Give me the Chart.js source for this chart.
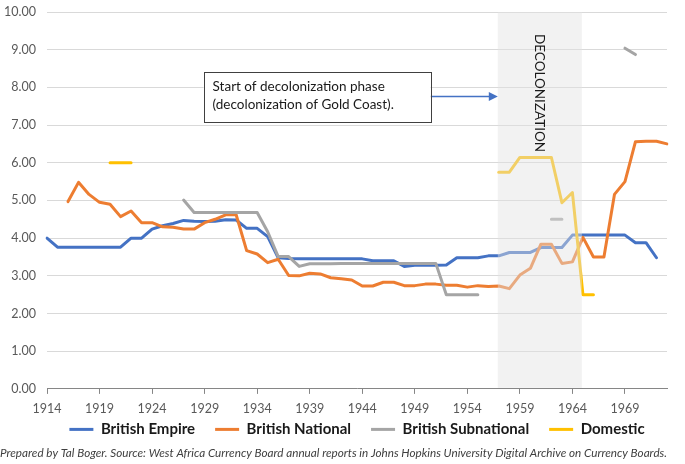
<!DOCTYPE html>
<html>
<head>
<meta charset="utf-8">
<script src="https://cdn.jsdelivr.net/npm/chart.js@4.4.1/dist/chart.umd.min.js"></script>
<style>
  html, body { margin: 0; padding: 0; background: #fff; }
  #wrap { width: 685px; height: 464px; }
</style>
</head>
<body>
<div id="wrap"><canvas id="chart" width="685" height="464"></canvas></div>
<script>
// années 1914 -> 1973
const years = Array.from({ length: 60 }, (_, i) => 1914 + i);

const britishEmpire = [
  4.00, 3.76, 3.76, 3.76, 3.76, 3.76, 3.76, 3.76, 4.00, 4.00,
  4.24, 4.33, 4.39, 4.47, 4.45, 4.44, 4.45, 4.49, 4.48, 4.26,
  4.26, 4.04, 3.48, 3.46, 3.45, 3.45, 3.45, 3.45, 3.45, 3.45,
  3.45, 3.40, 3.40, 3.40, 3.25, 3.28, 3.28, 3.28, 3.29, 3.48,
  3.48, 3.48, 3.53, 3.53, 3.62, 3.62, 3.62, 3.75, 3.75, 3.75,
  4.08, 4.08, 4.08, 4.08, 4.08, 4.08, 3.88, 3.88, 3.48, null
];

const britishNational = [
  null, null, 4.97, 5.48, 5.16, 4.95, 4.90, 4.57, 4.72, 4.41,
  4.41, 4.30, 4.29, 4.24, 4.24, 4.41, 4.50, 4.62, 4.62, 3.67,
  3.58, 3.35, 3.44, 3.01, 3.00, 3.07, 3.05, 2.95, 2.92, 2.89,
  2.73, 2.73, 2.83, 2.83, 2.74, 2.74, 2.78, 2.78, 2.75, 2.75,
  2.70, 2.74, 2.72, 2.73, 2.66, 3.02, 3.20, 3.84, 3.84, 3.33,
  3.37, 4.02, 3.50, 3.50, 5.16, 5.50, 6.56, 6.57, 6.57, 6.50
];

const britishSubnational = [
  null, null, null, null, null, null, null, null, null, null,
  null, null, null, 5.01, 4.68, 4.68, 4.68, 4.68, 4.68, 4.68,
  4.68, 4.17, 3.51, 3.51, 3.25, 3.32, 3.32, 3.32, 3.33, 3.33,
  3.33, 3.33, 3.33, 3.33, 3.33, 3.33, 3.33, 3.33, 2.50, 2.50,
  2.50, 2.50, null, null, null, null, null, null, 4.50, 4.50,
  null, null, null, null, null, 9.04, 8.87, null, null, null
];

const domestic = [
  null, null, null, null, null, null, 6.00, 6.00, 6.00, null,
  null, null, null, null, null, null, null, null, null, null,
  null, null, null, null, null, null, null, null, null, null,
  null, null, null, null, null, null, null, null, null, null,
  null, null, null, 5.75, 5.75, 6.14, 6.14, 6.14, 6.14, 4.94,
  5.21, 2.50, 2.50, null, null, null, null, null, null, null
];

const yTicks = [0, 1, 2, 3, 4, 5, 6, 7, 8, 9, 10];

// période de décolonisation (en années) et annotation
const decolonization = [1956.9, 1964.9];
const bandLabel = 'DECOLONIZATION';
const noteLines = ['Start of decolonization phase', '(decolonization of Gold Coast).'];
const noteBox = { from: 1928.9, to: 1950.5, top: 8.42, bottom: 7.09 };
const footnote = 'Prepared by Tal Boger. Source: West Africa Currency Board annual reports in Johns Hopkins University Digital Archive on Currency Boards.';

const FONT = 'Lato';
const tickColor = '#595959';

const overlayPlugin = {
  id: 'overlay',
  afterDatasetsDraw(chart) {
    const { ctx, chartArea, scales: { x, y } } = chart;
    const xOf = yr => x.getPixelForValue(yr - years[0]);

    // bande grise semi-transparente par-dessus les courbes
    const x0 = xOf(decolonization[0]);
    const x1 = xOf(decolonization[1]);
    ctx.save();
    ctx.fillStyle = 'rgba(226,226,226,0.45)';
    ctx.fillRect(x0, chartArea.top, x1 - x0, chartArea.bottom - chartArea.top - 1);

    ctx.translate((x0 + x1) / 2, y.getPixelForValue(7.85));
    ctx.rotate(Math.PI / 2);
    ctx.font = `13.5px ${FONT}`;
    ctx.fillStyle = '#1a1a1a';
    ctx.textAlign = 'center';
    ctx.textBaseline = 'middle';
    ctx.fillText(bandLabel, 0, 0);
    ctx.restore();

    // encadré + flèche
    const bl = xOf(noteBox.from), br = xOf(noteBox.to);
    const bt = y.getPixelForValue(noteBox.top), bb = y.getPixelForValue(noteBox.bottom);
    const mid = (bt + bb) / 2;

    ctx.save();
    ctx.strokeStyle = '#4472c4';
    ctx.fillStyle = '#4472c4';
    ctx.lineWidth = 1.5;
    ctx.beginPath();
    ctx.moveTo(br, mid);
    ctx.lineTo(x0 - 8, mid);
    ctx.stroke();
    ctx.beginPath();
    ctx.moveTo(x0, mid);
    ctx.lineTo(x0 - 9, mid - 4.5);
    ctx.lineTo(x0 - 9, mid + 4.5);
    ctx.closePath();
    ctx.fill();

    ctx.fillStyle = '#ffffff';
    ctx.fillRect(bl, bt, br - bl, bb - bt);
    ctx.strokeStyle = '#404040';
    ctx.lineWidth = 1;
    ctx.strokeRect(Math.round(bl) + 0.5, Math.round(bt) + 0.5, Math.round(br - bl), Math.round(bb - bt));

    ctx.font = `13.5px ${FONT}`;
    ctx.fillStyle = '#1a1a1a';
    ctx.textAlign = 'left';
    ctx.textBaseline = 'middle';
    ctx.fillText(noteLines[0], bl + 9, bt + 15);
    ctx.fillText(noteLines[1], bl + 9, bt + 33);
    ctx.restore();
  }
};

function series(label, data, color, order) {
  return {
    label,
    data,
    borderColor: color,
    backgroundColor: color,
    borderWidth: 3,
    pointRadius: 0,
    pointHoverRadius: 0,
    tension: 0,
    spanGaps: false,
    borderJoinStyle: 'round',
    borderCapStyle: 'round',
    order
  };
}

new Chart(document.getElementById('chart').getContext('2d'), {
  type: 'line',
  data: {
    labels: years,
    datasets: [
      series('British Empire', britishEmpire, '#4472c4', 4),
      series('British National', britishNational, '#ed7d31', 3),
      series('British Subnational', britishSubnational, '#a5a5a5', 2),
      series('Domestic', domestic, '#ffc000', 1)
    ]
  },
  options: {
    responsive: false,
    devicePixelRatio: 1,
    animation: false,
    layout: { padding: { top: 12, right: 18, left: 0, bottom: 2 } },
    scales: {
      x: {
        offset: false,
        grid: { drawOnChartArea: false, drawTicks: true, tickLength: 5, color: '#868686' },
        border: { display: true, color: '#868686' },
        ticks: {
          // mirror = pas de découpage des étiquettes, la marge négative les place sous l'axe
          mirror: true,
          padding: -27.5,
          autoSkip: false,
          maxRotation: 0,
          color: tickColor,
          font: { family: FONT, size: 12.5 },
          callback: (v, i) => (i % 5 === 0 ? String(years[i]) : null)
        },
        afterFit: s => { s.height = 13; }
      },
      y: {
        min: yTicks[0],
        max: yTicks[yTicks.length - 1],
        afterBuildTicks: s => { s.ticks = yTicks.map(v => ({ value: v })); },
        grid: { color: '#d9d9d9', drawTicks: true, tickLength: 8, tickColor: 'transparent' },
        border: { display: false },
        ticks: {
          padding: 3,
          color: tickColor,
          font: { family: FONT, size: 12.5 },
          callback: v => Number(v).toFixed(2)
        },
        afterFit: s => { s.width = 47; }
      }
    },
    plugins: {
      legend: {
        position: 'bottom',
        fullSize: false,
        maxHeight: 40,
        labels: {
          usePointStyle: true,
          pointStyle: 'line',
          pointStyleWidth: 24,
          padding: 20,
          color: '#1a1a1a',
          font: { family: FONT, size: 15, weight: 'bold' },
          sort: (a, b) => a.datasetIndex - b.datasetIndex
        }
      },
      title: {
        display: true,
        position: 'bottom',
        text: footnote,
        color: '#404040',
        font: { family: FONT, size: 11.75, style: 'italic', weight: 'normal' },
        padding: { top: 4, bottom: 2 }
      },
      tooltip: { enabled: false }
    }
  },
  plugins: [overlayPlugin]
});
</script>
</body>
</html>
